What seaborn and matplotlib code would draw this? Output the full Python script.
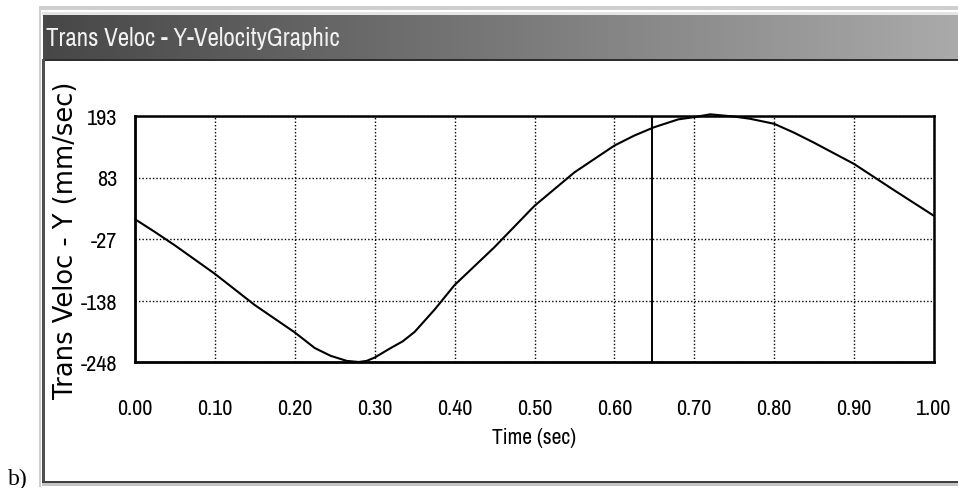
import numpy as np
import matplotlib
matplotlib.use("Agg")
import matplotlib.pyplot as plt
import seaborn as sns
from matplotlib.patches import Rectangle
from matplotlib.ticker import FixedLocator

# ---- data ----
time_sec = [0.00, 0.025, 0.05, 0.10, 0.15, 0.20, 0.225, 0.245, 0.265, 0.28,
            0.29, 0.30, 0.32, 0.335, 0.35, 0.375, 0.40, 0.425, 0.45, 0.50,
            0.55, 0.60, 0.625, 0.65, 0.68, 0.70, 0.72, 0.75, 0.77, 0.80,
            0.825, 0.85, 0.90, 0.95, 1.00]
velocity = [8, -15, -39, -90, -146, -195, -223, -237, -246, -248,
            -246, -240, -223, -211, -194, -154, -110, -76, -42, 32,
            92, 140, 158, 173, 187, 191, 196, 192, 188, 179,
            163, 145, 107, 60, 14]
cursor_time = 0.647

x_major = [0.0, 0.1, 0.2, 0.3, 0.4, 0.5, 0.6, 0.7, 0.8, 0.9, 1.0]
x_labels = ["0.00", "0.10", "0.20", "0.30", "0.40", "0.50", "0.60", "0.70",
            "0.80", "0.90", "1.00"]
x_minor = [0.05, 0.15, 0.25, 0.35, 0.45, 0.55, 0.65, 0.75, 0.85, 0.95]
y_major = [-248, -137.75, -27.5, 82.75, 193]
y_labels = ["-248", "-138", "-27", "83", "193"]
y_minor = [-192.875, -82.625, 27.625, 137.875]

title_text = "Trans Veloc - Y-VelocityGraphic"
x_title = "Time (sec)"
y_title = "Trans Veloc - Y (mm/sec)"

sns.set_style("white")
NARROW = ["Archivo Narrow", "Roboto Condensed", "Asap Condensed", "DejaVu Sans"]

W, H = 958, 489
fig = plt.figure(figsize=(W / 100, H / 100), dpi=100)

# ---- window frame drawn in pixel coordinates ----
bg = fig.add_axes([0, 0, 1, 1])
bg.set_xlim(0, W)
bg.set_ylim(H, 0)
bg.axis("off")
bg.add_patch(Rectangle((39, 7), W - 39, 4, color="#cfcfcf", lw=0))
bg.add_patch(Rectangle((39, 7), 2.5, 481, color="#cfcfcf", lw=0))
bg.add_patch(Rectangle((42, 13), W - 42, 4, color="#e4e4e4", lw=0))
grad = np.linspace(0.0, 1.0, 256).reshape(1, -1)
bg.imshow(grad, extent=(43, W, 60, 16.5), aspect="auto",
          cmap=matplotlib.colors.LinearSegmentedColormap.from_list(
              "tb", ["#474747", "#aaaaaa"]), zorder=1)
bg.add_patch(Rectangle((43, 59.5), W - 43, 2.5, color="#2e2e2e", lw=0, zorder=2))
bg.add_patch(Rectangle((42.5, 60), 2.5, 424, color="#505050", lw=0, zorder=2))
bg.add_patch(Rectangle((42.5, 481.5), W - 42.5, 2.5, color="#404040", lw=0, zorder=2))
bg.add_patch(Rectangle((42.5, 484), W - 42.5, 3, color="#c4c4c4", lw=0, zorder=2))
bg.text(46, 39, title_text, color="#f2f2f2", fontsize=18, family=NARROW,
        ha="left", va="center", zorder=3)
bg.text(8, 469, "b)", color="black", fontsize=17, family="Liberation Serif",
        ha="left", va="top")

# ---- chart ----
ax = fig.add_axes([135 / W, 1 - 363 / H, (934 - 135) / W, (363 - 117) / H])
ax.set_facecolor("white")
sns.lineplot(x=time_sec, y=velocity, ax=ax, color="black", linewidth=1.5,
             clip_on=False, zorder=5)
ax.axvline(cursor_time, color="black", linewidth=1.4, zorder=4)

ax.set_xlim(0, 1)
ax.set_ylim(-248, 193)
ax.xaxis.set_major_locator(FixedLocator(x_major))
ax.xaxis.set_minor_locator(FixedLocator(x_minor))
ax.yaxis.set_major_locator(FixedLocator(y_major))
ax.yaxis.set_minor_locator(FixedLocator(y_minor))
ax.set_xticklabels(x_labels)
ax.set_yticklabels(y_labels)

ax.grid(True, which="major", color="black", linestyle=(0, (1, 1.5)), linewidth=1.0)
for side, sp in ax.spines.items():
    sp.set_visible(True)
    sp.set_color("black")
    sp.set_linewidth(2.0 if side in ("left", "bottom") else 1.8)

ax.tick_params(axis="both", which="major", direction="inout", length=10,
               width=1.5, color="black", labelcolor="black", labelsize=16)
ax.tick_params(axis="both", which="minor", direction="inout", length=6,
               width=1.5, color="black")
ax.tick_params(axis="x", which="major", pad=21)
ax.tick_params(axis="y", which="major", pad=8)
for lab in ax.get_xticklabels() + ax.get_yticklabels():
    lab.set_family(NARROW)

ax.set_xlabel(x_title, family=NARROW, fontsize=15.5, color="black")
ax.xaxis.set_label_coords(0.5, -(428 - 363) / 246)
ax.xaxis.label.set_va("top")
ax.set_ylabel(y_title, family="DejaVu Sans", fontsize=18.5, color="black")
ax.yaxis.set_label_coords(-(135 - 79) / 799, 0.5)

fig.savefig("out.png", dpi=100)
